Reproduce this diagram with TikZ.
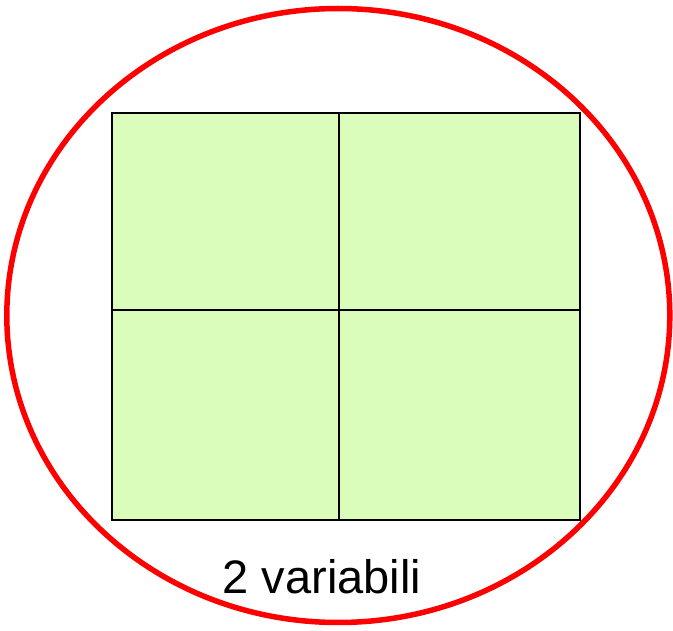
\documentclass[tikz,border=0pt]{standalone}
\usepackage{fontspec}
\setmainfont{Liberation Sans}
\definecolor{cellgreen}{RGB}{219,253,187}
\begin{document}
\begin{tikzpicture}[x=1pt,y=-1pt,
  cell/.style={draw=black,line width=2pt,fill=cellgreen},
  ring/.style={draw=red,line width=5.5pt}]
\useasboundingbox (0,0) rectangle (673,631);
\draw[ring] (338.3,315.5) ellipse [x radius=331.5, y radius=307];
\path[cell] (112,113) rectangle (339,310);
\path[cell] (339,113) rectangle (580,310);
\path[cell] (112,310) rectangle (339,520);
\path[cell] (339,310) rectangle (580,520);
\node[anchor=base,inner sep=0,font=\fontsize{47}{56}\selectfont] (lab) at (322,593) {2 variabili};
\end{tikzpicture}
\end{document}
